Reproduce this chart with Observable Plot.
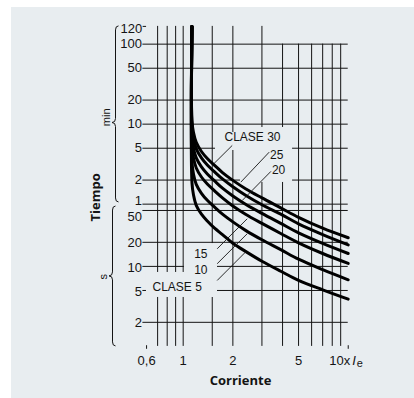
<!DOCTYPE html>
<html><head><meta charset="utf-8">
<script src="https://cdn.jsdelivr.net/npm/d3@7"></script>
<script src="https://cdn.jsdelivr.net/npm/@observablehq/plot@0.6"></script>
<style>
html,body{margin:0;padding:0;background:#fff;}
#panel{position:absolute;left:11px;top:7px;width:403px;height:391px;background:#e8edf0;}
</style></head><body><div id="panel"></div>
<script>
// ---- data (current in multiples of Ie, time in seconds) ----
const clase30 = [[1.13,10000],[1.13,670],[1.155,470],[1.2,355],[1.29,273],[1.4,223],[1.55,183],[1.73,149],[2,119],[2.4,93],[3,72],[3.9,54],[5,41],[7,30],[10,22.8]];
const clase25 = [[1.13,10000],[1.131,555],[1.155,392],[1.2,294],[1.29,227],[1.4,185],[1.55,152],[1.73,124],[2,99],[2.4,77],[3,59],[3.9,45],[5,34],[7,25],[10,18.6]];
const clase20 = [[1.13,10000],[1.131,430],[1.155,300],[1.2,227],[1.29,175],[1.4,143],[1.55,117],[1.73,95],[2,76],[2.4,59.5],[3,46],[3.9,34.5],[5,26.3],[7,19.4],[10,14.5]];
const clase15 = [[1.13,10000],[1.131,320],[1.155,227],[1.2,170],[1.29,131],[1.4,107],[1.55,88],[1.73,72],[2,57],[2.4,44.6],[3,34.5],[3.9,25.8],[5,19.7],[7,14.5],[10,10.9]];
const clase10 = [[1.13,10000],[1.131,200],[1.155,142],[1.2,106],[1.29,82],[1.4,67],[1.55,55],[1.73,45],[2,36],[2.4,28],[3,21.5],[3.9,16.2],[5,12.3],[7,9.1],[10,6.8]];
const clase5  = [[1.13,10000],[1.131,110],[1.155,78],[1.2,58],[1.29,45],[1.4,37],[1.55,30],[1.73,25],[2,19.5],[2.4,15.3],[3,11.6],[3.9,8.7],[5,6.7],[7,5.1],[10,3.9]];
const curves = [clase30, clase25, clase20, clase15, clase10, clase5];

const xGridTop = [0.7, 0.8, 0.9, 1, 1.5, 2, 3];
const xGridMid = [4, 5, 6, 7, 8, 9];
const minTicks = [1, 2, 5, 10, 20, 50, 100];       // minutes
const secTicks = [2, 5, 10, 20, 50];               // seconds
const xTicks = [0.6, 1, 2, 5];
const xTickLabels = ["0,6", "1", "2", "5"];
const topLabel = "120";

const labelText = ["CLASE 30", "25", "20", "15", "10", "CLASE 5"];
const labelI = [1.78, 3.36, 3.45, 1.404, 1.404, 0.652];
const labelT = [409, 247, 158, 14.4, 9.08, 5.45];
const labelAnchor = ["start", "start", "start", "end", "end", "start"];
const leaders = [[1.982,325,1.533,192],[3.32,268,2.234,113],[3.40,154,2.279,66.7],[1.607,16.6,2.443,39.4],[1.607,10.8,2.443,25.6],[1.607,6.67,2.385,15.1]];
const knockouts = [[2.225,4.6,112,545],[1.57,2.225,281,472],[1.018,1.614,4.09,19.3],[0.599,1.614,4.09,8.4]];

// ---- chart ----
const bg = "#e8edf0", ink = "#141414";
const font = "'Liberation Sans', Arial, sans-serif";
const hLines = [...minTicks.map(m => m * 60), ...secTicks];
const labels = labelText.map((s, i) => ({s, x: labelI[i], y: labelT[i], a: labelAnchor[i]}));

const marks = [
  Plot.ruleX(xGridTop, {x: d => d, y1: 1, y2: 10000, stroke: ink, strokeWidth: 1}),
  Plot.ruleX(xGridMid, {x: d => d, y1: 1, y2: 6000, stroke: ink, strokeWidth: 1}),
  Plot.ruleY(hLines, {y: d => d, x1: 0.57, x2: 10, stroke: ink, strokeWidth: 1}),
  Plot.ruleY([10000], {y: d => d, x1: 0.572, x2: 0.6, stroke: ink, strokeWidth: 1}),
  Plot.ruleX([0.6, 10], {x: d => d, y1: 1.02, y2: 0.92, stroke: ink, strokeWidth: 1}),
  Plot.rect(knockouts, {x1: d => d[0], x2: d => d[1], y1: d => d[2], y2: d => d[3], fill: bg}),
  ...curves.map(c => Plot.line(c, {x: d => d[0], y: d => d[1], stroke: "#000", strokeWidth: 3, curve: "catmull-rom"})),
  Plot.link(leaders, {x1: d => d[0], y1: d => d[1], x2: d => d[2], y2: d => d[3], stroke: ink, strokeWidth: 0.9}),
  Plot.text(labels.filter(d => d.a === "start"), {x: "x", y: "y", text: "s", textAnchor: "start", fontSize: 12, fill: ink, fontFamily: font}),
  Plot.text(labels.filter(d => d.a === "end"), {x: "x", y: "y", text: "s", textAnchor: "end", fontSize: 12, fill: ink, fontFamily: font}),
  // y tick labels
  Plot.text(minTicks.filter(m => m !== 1), {x: 0.57, y: d => d * 60, text: d => String(d), textAnchor: "end", dx: -1, fontSize: 13, fill: ink, fontFamily: font}),
  Plot.text([1], {x: 0.57, y: d => d * 60, text: d => String(d), textAnchor: "end", dx: -1, dy: -3, fontSize: 13, fill: ink, fontFamily: font}),
  Plot.text(secTicks.filter(s => s !== 50), {x: 0.57, y: d => d, text: d => String(d), textAnchor: "end", dx: -1, dy: 1, fontSize: 13, fill: ink, fontFamily: font}),
  Plot.text([50], {x: 0.57, y: d => d, text: d => String(d), textAnchor: "end", dx: -1, dy: 6, fontSize: 13, fill: ink, fontFamily: font}),
  Plot.text([10000], {x: 0.572, y: d => d, text: () => topLabel, textAnchor: "end", dx: -1, dy: 2, fontSize: 13, fill: ink, fontFamily: font}),
  // x tick labels
  Plot.text(xTicks, {x: d => d, y: 1, text: (d, i) => xTickLabels[i], dy: 14, fontSize: 13, fill: ink, fontFamily: font}),
  Plot.text([10], {x: d => d, y: 1, text: () => "10x", textAnchor: "end", dx: 2, dy: 14, fontSize: 13, fill: ink, fontFamily: font}),
  Plot.text([10], {x: d => d, y: 1, text: () => "I", textAnchor: "start", dx: 4, dy: 14, fontSize: 13, fontStyle: "italic", fill: ink, fontFamily: font}),
  Plot.text([10], {x: d => d, y: 1, text: () => "e", textAnchor: "start", dx: 8.5, dy: 17, fontSize: 11, fill: ink, fontFamily: font})
];

const chart = Plot.plot({
  width: 403, height: 391,
  style: {background: "transparent", fontFamily: font, color: ink},
  x: {type: "log", domain: [0.5, 12], range: [122, 349.8], axis: null},
  y: {type: "log", domain: [1, 10000], range: [338.9, 18.9], axis: null},
  marks
});

// braces and axis titles (positioned with the chart's own y scale)
const ys = chart.scale("y");
const svg = d3.select(chart);
function brace(tTop, tTip, tBot, bx) {
  const y0 = ys.apply(tTop), ym = ys.apply(tTip), y1 = ys.apply(tBot);
  const d = `M${bx + 3},${y0} Q${bx},${y0} ${bx},${y0 + 4} L${bx},${ym - 4} Q${bx},${ym} ${bx - 3.5},${ym} Q${bx},${ym} ${bx},${ym + 4} L${bx},${y1 - 4} Q${bx},${y1} ${bx + 3},${y1}`;
  svg.append("path").attr("d", d).attr("fill", "none").attr("stroke", ink).attr("stroke-width", 1);
}
brace(10000, 620, 63, 104.5);
brace(56, 7.5, 1, 101.5);
function vtext(txt, x, t, size, weight, fam) {
  svg.append("text").attr("transform", `translate(${x},${ys.apply(t)}) rotate(-90)`)
    .attr("text-anchor", "middle").attr("dominant-baseline", "central")
    .attr("font-size", size).attr("font-weight", weight).attr("font-family", fam).attr("fill", ink).text(txt);
}
vtext("min", 95, 720, 11, 400, font);
vtext("s", 92, 7.3, 11, 400, font);
vtext("Tiempo", 84, 72, 13, 700, "'Open Sans', sans-serif");
svg.append("text").attr("x", 229.5).attr("y", 373).attr("text-anchor", "middle").attr("dominant-baseline", "central")
  .attr("font-size", 13).attr("font-weight", 700).attr("font-family", "'Open Sans', sans-serif").attr("fill", ink).text("Corriente");

document.getElementById("panel").appendChild(chart);
</script></body></html>
